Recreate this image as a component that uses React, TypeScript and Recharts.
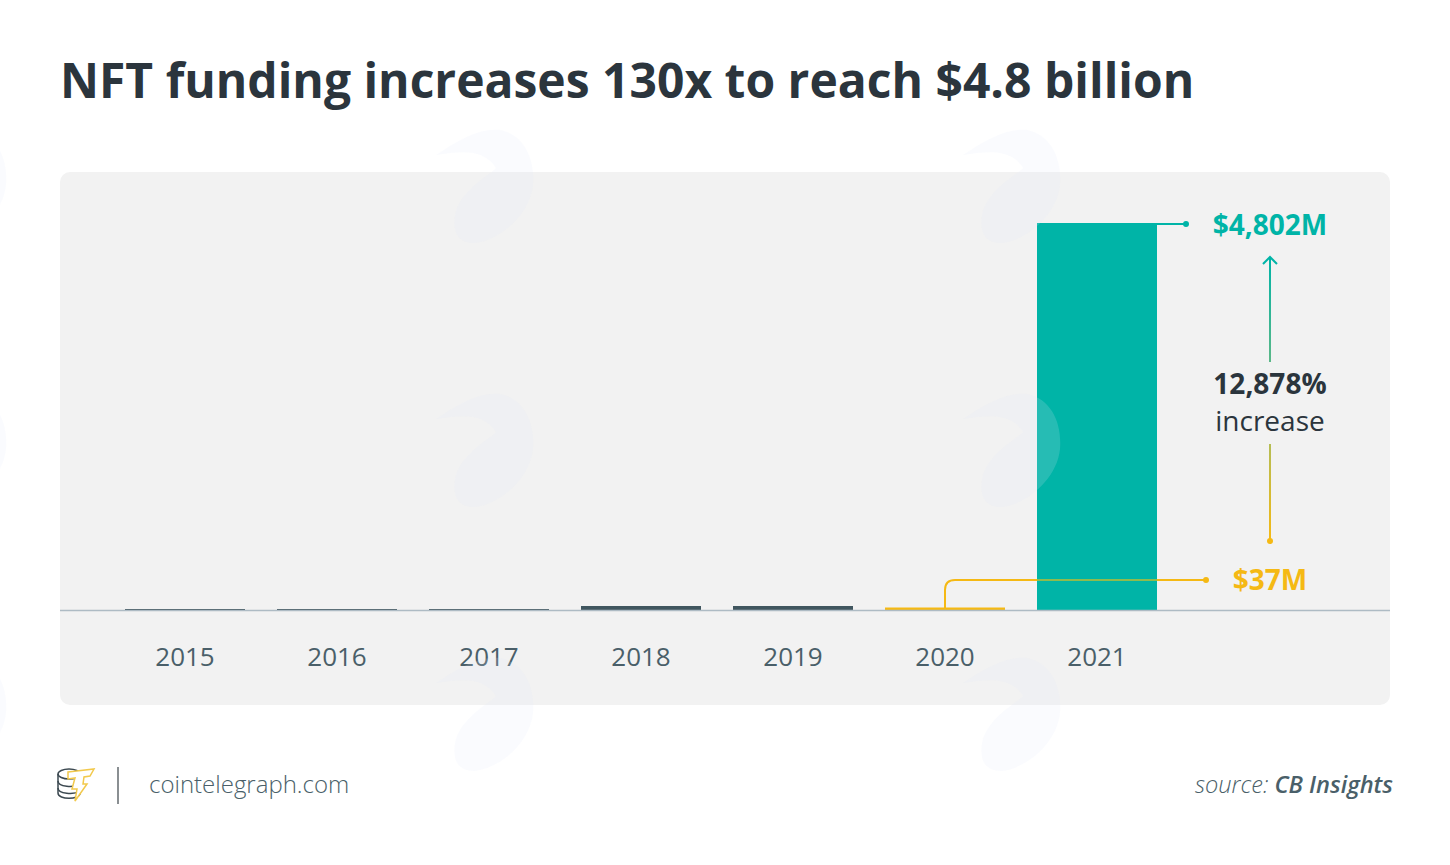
import { BarChart, Bar, Cell, XAxis, YAxis } from "recharts";

const years = ["2015", "2016", "2017", "2018", "2019", "2020", "2021"];
const funding = [20, 20, 20, 56, 56, 37, 4802];
const barColors = ["#40565f", "#40565f", "#40565f", "#40565f", "#40565f", "#f5b914", "#00b4a7"];

const chartData = years.map((year, i) => ({ year, funding: funding[i] }));

const FONT = "'Open Sans', sans-serif";
const TEAL = "#00b4a7";
const YELLOW = "#f5b914";
const INK = "#2b353d";

// faint logo watermark repeated across the image
const wingPath =
  "M-44,-30 C-20,-46 0,-57 20,-55 C45,-50 55,-25 53,0 C50,30 20,55 -5,58 C-20,58 -28,50 -25,30 C-20,5 10,-10 16,-17 C5,-35 -15,-35 -44,-30 Z";
const wingSpots = [
  [480, 185], [1007, 185],
  [480, 449], [1007, 449],
  [480, 713], [1007, 713],
  [-47, 185], [-47, 449], [-47, 713],
];

function Watermarks() {
  return (
    <svg
      width={1450}
      height={865}
      style={{ position: "absolute", left: 0, top: 0, pointerEvents: "none" }}
    >
      {wingSpots.map(([x, y], i) => (
        <path key={i} d={wingPath} transform={`translate(${x},${y})`} fill="#e2e8fb" opacity={0.17} />
      ))}
    </svg>
  );
}

function Annotations() {
  return (
    <svg
      width={1450}
      height={865}
      style={{ position: "absolute", left: 0, top: 0, pointerEvents: "none" }}
    >
      <defs>
        <linearGradient id="upLine" x1="0" y1="0" x2="0" y2="1">
          <stop offset="0%" stopColor={TEAL} />
          <stop offset="100%" stopColor="#5cb888" />
        </linearGradient>
        <linearGradient id="downLine" x1="0" y1="0" x2="0" y2="1">
          <stop offset="0%" stopColor="#b5bd55" />
          <stop offset="100%" stopColor={YELLOW} />
        </linearGradient>
      </defs>

      <line x1={1157} y1={224} x2={1186} y2={224} stroke={TEAL} strokeWidth={2} />
      <circle cx={1186} cy={224} r={3} fill={TEAL} />
      <text x={1270} y={235} textAnchor="middle" fontFamily={FONT} fontWeight={700} fontSize={28} fill={TEAL}>
        $4,802M
      </text>

      <rect x={1269} y={258} width={2} height={104} fill="url(#upLine)" />
      <path d="M1263,264 L1270,257 L1277,264" fill="none" stroke={TEAL} strokeWidth={2} />

      <text x={1270} y={394} textAnchor="middle" fontFamily={FONT} fontWeight={700} fontSize={28} fill={INK}>
        12,878%
      </text>
      <text x={1270} y={431} textAnchor="middle" fontFamily={FONT} fontSize={28} fill={INK}>
        increase
      </text>

      <rect x={1269} y={444} width={2} height={97} fill="url(#downLine)" />
      <circle cx={1270} cy={541} r={3} fill={YELLOW} />

      <path d="M945,608 L945,590 Q945,580 955,580 L1206,580" fill="none" stroke={YELLOW} strokeWidth={2} />
      <line x1={1037} y1={580} x2={1157} y2={580} stroke="#8dbb4f" strokeWidth={2} />
      <circle cx={1206} cy={580} r={3} fill={YELLOW} />
      <text x={1270} y={590} textAnchor="middle" fontFamily={FONT} fontWeight={700} fontSize={28} fill={YELLOW}>
        $37M
      </text>
    </svg>
  );
}

function Logo() {
  return (
    <svg width={44} height={44} style={{ position: "absolute", left: 54, top: 764 }}>
      <g fill="none" stroke="#3b4850" strokeWidth={1.5}>
        <ellipse cx={15} cy={10} rx={11} ry={5} />
        <path d="M4,10 V29 C4,36 26,36 26,29" />
        <path d="M4,17 C4,23 20,24 26,20" />
        <path d="M4,24 C4,30 20,31 26,27" />
      </g>
      <path
        d="M14,8 L40,5 L36,12 L30,13 L29,20 L33,20 L21,37 L23,25 L18,25 L21,14 L14,15 Z"
        fill="#fff"
        stroke="#f2c94c"
        strokeWidth={1.5}
      />
    </svg>
  );
}

export default function App() {
  return (
    <div
      style={{
        position: "absolute",
        left: 0,
        top: 0,
        width: 1450,
        height: 865,
        background: "#fff",
        overflow: "hidden",
        fontFamily: FONT,
      }}
    >
      <div
        style={{
          position: "absolute",
          left: 60,
          top: 48,
          fontSize: 48,
          fontWeight: 700,
          lineHeight: "64px",
          color: INK,
          whiteSpace: "nowrap",
        }}
      >
        NFT funding increases 130x to reach $4.8 billion
      </div>

      <div
        style={{
          position: "absolute",
          left: 60,
          top: 172,
          width: 1330,
          height: 533,
          borderRadius: 10,
          background: "#f2f2f2",
        }}
      />

      <div style={{ position: "absolute", left: 0, top: 0 }}>
        <BarChart
          width={1450}
          height={865}
          data={chartData}
          margin={{ top: 223, right: 60, bottom: 194.5, left: 60 }}
          barSize={120}
        >
          <XAxis
            dataKey="year"
            height={60}
            padding={{ left: 49, right: 217 }}
            axisLine={{ stroke: "#aebbc4", strokeWidth: 1.5 }}
            tickLine={false}
            tickMargin={31}
            tick={{ fontSize: 26, fill: "#4a5f69", fontFamily: FONT }}
            interval={0}
          />
          <YAxis hide domain={[0, 4802]} />
          <Bar dataKey="funding" isAnimationActive={false}>
            {chartData.map((d, i) => (
              <Cell key={d.year} fill={barColors[i]} />
            ))}
          </Bar>
        </BarChart>
      </div>

      <Annotations />
      <Watermarks />
      <Logo />
      <div style={{ position: "absolute", left: 117, top: 767, width: 2, height: 37, background: "#8a8f92" }} />
      <div
        style={{
          position: "absolute",
          left: 149,
          top: 766,
          fontSize: 24,
          fontWeight: 300,
          lineHeight: "36px",
          color: "#4a5f69",
        }}
      >
        cointelegraph.com
      </div>
      <div
        style={{
          position: "absolute",
          right: 57,
          top: 766,
          fontSize: 23.6,
          fontStyle: "italic",
          fontWeight: 300,
          lineHeight: "36px",
          color: "#4a5f69",
          whiteSpace: "nowrap",
        }}
      >
        source: <span style={{ fontWeight: 600 }}>CB Insights</span>
      </div>
    </div>
  );
}
